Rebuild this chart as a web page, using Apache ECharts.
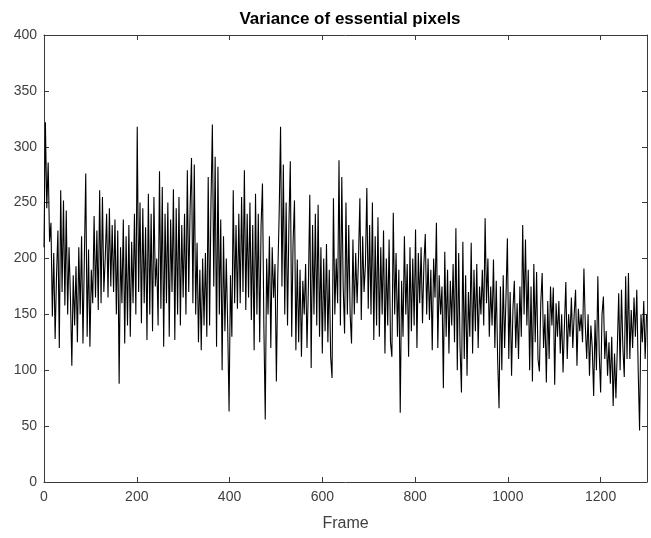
<!DOCTYPE html>
<html>
<head>
<meta charset="utf-8">
<script src="https://cdn.jsdelivr.net/npm/echarts@6/dist/echarts.min.js"></script>
<style>html,body{margin:0;padding:0;background:#fff}#c{width:651px;height:538px}</style>
</head>
<body>
<div id="c"></div>
<script>
var titleText = 'Variance of essential pixels';
var xName = 'Frame';
var frameStep = 3;
var xTicks = [0, 200, 400, 600, 800, 1000, 1200];
var yTicks = [0, 50, 100, 150, 200, 250, 300, 350, 400];
var variance = [
  210,322,245,286,215,232,148,205,128,185,
  225,120,261,170,252,158,243,150,210,165,
  104,185,140,193,125,210,150,220,124,200,
  276,130,208,121,190,160,238,165,225,154,
  261,160,255,170,200,240,165,245,175,230,
  170,235,150,225,88,210,160,235,124,220,
  140,230,130,215,160,240,150,318,170,250,
  142,245,160,228,127,258,150,240,135,255,
  175,200,140,278,155,264,121,240,160,250,
  130,235,170,262,127,245,150,255,140,230,
  165,240,150,279,170,245,290,160,284,150,
  214,125,190,118,200,140,205,130,273,140,
  250,320,175,291,121,282,150,235,100,220,
  135,200,140,63,185,130,261,160,230,155,
  240,160,255,170,279,154,240,165,250,145,
  230,118,258,150,240,125,230,267,140,56,
  200,150,220,120,210,165,195,90,185,240,
  318,175,284,150,250,140,230,287,130,215,
  252,118,199,125,190,112,180,150,195,120,
  175,257,102,230,150,240,140,248,130,210,
  115,200,135,213,125,190,112,93,254,150,
  200,160,288,140,273,175,133,250,150,230,
  150,124,217,150,205,160,200,254,145,220,
  170,195,263,155,230,150,250,127,220,140,
  237,130,210,150,225,115,200,140,217,125,
  112,241,150,205,130,190,62,180,130,220,
  150,195,112,210,135,200,140,226,120,205,
  160,210,142,195,222,150,200,145,190,118,
  200,165,232,120,185,150,175,84,206,130,
  190,115,180,140,195,125,227,100,205,120,
  80,215,110,185,95,170,130,214,115,190,
  135,195,120,175,150,190,140,236,160,200,
  130,175,140,199,120,180,110,66,175,100,
  185,120,165,218,110,170,95,155,180,120,
  160,110,175,130,230,150,217,140,190,100,
  175,90,195,125,188,110,99,160,187,120,
  150,89,162,110,175,140,174,87,160,130,
  162,115,150,98,140,179,110,150,130,165,
  120,150,172,104,155,135,150,125,191,140,
  110,150,95,140,120,77,145,100,184,115,
  80,150,166,110,135,95,125,88,130,68,
  115,75,120,169,100,172,120,94,184,110,
  187,110,154,120,165,130,172,100,46,150,
  125,162,110,150
];

var points = variance.map(function (v, i) { return [i * frameStep, v]; });
var xMin = xTicks[0], xMax = 1300, xInt = xTicks[1] - xTicks[0];
var yMin = yTicks[0], yMax = yTicks[yTicks.length - 1], yInt = yTicks[1] - yTicks[0];
var axisColor = '#3a3a3a';
var labelColor = '#404040';
var fontFam = '"Liberation Sans", Arial, Helvetica, sans-serif';

function xAx(pos, showLabel) {
  return {
    type: 'value', position: pos, min: xMin, max: xMax, interval: xInt,
    name: showLabel ? xName : '', nameLocation: 'middle', nameGap: 34,
    nameTextStyle: { color: labelColor, fontSize: 16, fontFamily: fontFam },
    axisLine: { show: true, onZero: false, lineStyle: { color: axisColor, width: 1 } },
    axisTick: { show: true, inside: true, length: 5, lineStyle: { color: axisColor } },
    axisLabel: { show: showLabel, color: labelColor, fontSize: 14, fontFamily: fontFam, margin: 8, showMaxLabel: false,
      formatter: function (v) { return String(v); } },
    splitLine: { show: false }
  };
}
function yAx(pos, showLabel) {
  return {
    type: 'value', position: pos, min: yMin, max: yMax, interval: yInt,
    axisLine: { show: true, onZero: false, lineStyle: { color: axisColor, width: 1 } },
    axisTick: { show: true, inside: true, length: 5, lineStyle: { color: axisColor } },
    axisLabel: { show: showLabel, color: labelColor, fontSize: 14, fontFamily: fontFam, margin: 7,
      formatter: function (v) { return String(v); } },
    splitLine: { show: false }
  };
}

var chart = echarts.init(document.getElementById('c'), null, { renderer: 'canvas' });
chart.setOption({
  animation: false,
  backgroundColor: '#ffffff',
  title: {
    text: titleText, left: 345, top: 6, textAlign: 'center',
    textStyle: { fontSize: 17, fontWeight: 'bold', color: '#000', fontFamily: fontFam }
  },
  grid: { left: 44, right: 4, top: 35, bottom: 56, containLabel: false },
  xAxis: [xAx('bottom', true), xAx('top', false)],
  yAxis: [yAx('left', true), yAx('right', false)],
  series: [{
    type: 'line', data: points, xAxisIndex: 0, yAxisIndex: 0,
    showSymbol: false, symbol: 'none',
    lineStyle: { color: '#000', width: 1.1 }
  }]
});
</script>
</body>
</html>
